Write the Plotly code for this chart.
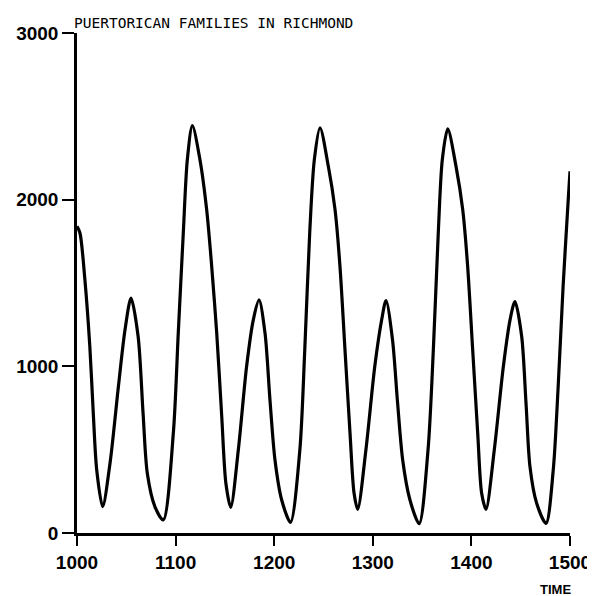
import plotly.graph_objects as go

# Values
time = [1000, 1003, 1008, 1013, 1016.5, 1020, 1026, 1033.5, 1042, 1048.7, 1054.8,
        1062, 1067, 1071.3, 1079, 1087.5, 1097.7, 1102.7, 1107.8, 1111.9, 1117,
        1124.7, 1131.5, 1136.6, 1141.7, 1146.8, 1151, 1155.9, 1163.6, 1172, 1178.8,
        1184.6, 1190.7, 1195.7, 1200.8, 1207.6, 1216.5, 1226, 1231, 1236, 1240.7,
        1246.5, 1254.9, 1261.7, 1266.7, 1271.8, 1276.9, 1281, 1284.7, 1293, 1302,
        1309, 1313.4, 1320, 1324.9, 1330.3, 1337.7, 1347, 1356, 1361.4, 1366.4,
        1370.5, 1376, 1384.4, 1391.2, 1396.2, 1401.3, 1406.4, 1410.4, 1414.8, 1423.2,
        1432.4, 1439.2, 1444.2, 1451, 1455.4, 1459.4, 1466.2, 1475.7, 1483, 1488,
        1493, 1498, 1500]
families = [1840, 1800, 1520, 1119, 719, 378, 158, 419, 879, 1219, 1410,
            1179, 719, 358, 158, 78, 599, 1199, 1800, 2240, 2444,
            2240, 1940, 1600, 1199, 699, 298, 154, 498, 999, 1279,
            1399, 1199, 799, 438, 198, 64, 498, 1099, 1800, 2240,
            2431, 2200, 1940, 1600, 1099, 599, 238, 142, 498, 999,
            1279, 1395, 1159, 799, 438, 198, 56, 498, 1099, 1800,
            2240, 2425, 2200, 1940, 1600, 1099, 599, 238, 142, 498,
            999, 1279, 1389, 1179, 779, 398, 178, 58, 378, 879,
            1479, 1980, 2170]

x_ticks = [1000, 1100, 1200, 1300, 1400, 1500]
y_ticks = [0, 1000, 2000, 3000]
title_text = "PUERTORICAN FAMILIES IN RICHMOND"
x_title = "TIME"

fig = go.Figure()
fig.add_trace(go.Scatter(
    x=time, y=families, mode="lines",
    line=dict(color="black", width=3.2, shape="spline", smoothing=0.8),
    hoverinfo="skip", showlegend=False,
))

tick_font = dict(family="Liberation Sans, Arial, sans-serif", size=19, color="black", weight="bold")

# page body has an 8px margin, so the figure is sized and placed to compensate
fig.update_layout(
    width=587, height=588,
    margin=dict(l=69, r=25, t=25, b=63, autoexpand=False),
    paper_bgcolor="white", plot_bgcolor="white",
    xaxis=dict(range=[1000, 1500], tickvals=x_ticks, ticktext=[str(v) for v in x_ticks],
               showgrid=False, zeroline=False, showline=True, linecolor="black", linewidth=2.5,
               ticks="outside", ticklen=10, tickwidth=2, tickcolor="black",
               tickfont=tick_font, fixedrange=True, automargin=False),
    yaxis=dict(range=[0, 3000], tickvals=y_ticks, ticktext=[str(v) for v in y_ticks],
               showgrid=False, zeroline=False, showline=True, linecolor="black", linewidth=2.5,
               ticks="outside", ticklen=12, tickwidth=2, tickcolor="black",
               tickfont=tick_font, fixedrange=True, automargin=False),
    annotations=[
        dict(text=title_text, xref="paper", yref="paper", x=-0.01, y=1.021,
             xanchor="left", yanchor="middle", showarrow=False,
             font=dict(family="DejaVu Sans Mono, monospace", size=14.5, color="black")),
        dict(text=x_title, xref="paper", yref="paper", x=0.9696, y=-0.112,
             xanchor="center", yanchor="middle", showarrow=False,
             font=dict(family="Liberation Sans, Arial, sans-serif", size=13, color="black", weight="bold")),
    ],
)

fig.write_html("out.html")
